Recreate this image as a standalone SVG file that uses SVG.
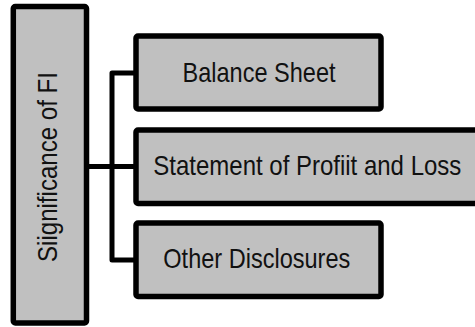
<svg xmlns="http://www.w3.org/2000/svg" width="475" height="327" viewBox="0 0 475 327">
<style>
.box{fill:#c0c0c0;stroke:#000;stroke-width:5.5;stroke-linejoin:round}
.lbl{font-family:"Liberation Sans",Arial,sans-serif;font-size:28.5px;fill:#111}
.conn{fill:none;stroke:#000;stroke-width:5;stroke-linejoin:round}
</style>
<rect x="0" y="0" width="475" height="327" fill="#fff"/>
<g id="connectors">
<path class="conn" d="M136 73 H112 V260 H136"/>
<path class="conn" d="M86 166.5 H136"/>
</g>
<g id="root">
<rect class="box" x="13.3" y="6.5" width="73.2" height="316.5" rx="2"/>
<text class="lbl" transform="translate(57,167) rotate(-90)" x="0" y="0" text-anchor="middle" textLength="190" lengthAdjust="spacingAndGlyphs">Siignificance of FI</text>
</g>
<g id="balance">
<rect class="box" x="136" y="36" width="245" height="73" rx="2"/>
<text class="lbl" x="259" y="81.5" text-anchor="middle" textLength="153" lengthAdjust="spacingAndGlyphs">Balance Sheet</text>
</g>
<g id="statement">
<rect class="box" x="136" y="130" width="343" height="73.5" rx="2"/>
<text class="lbl" x="153.3" y="175" textLength="308" lengthAdjust="spacingAndGlyphs">Statement of Profiit and Loss</text>
</g>
<g id="other">
<rect class="box" x="136" y="223" width="245" height="73.5" rx="2"/>
<text class="lbl" x="163.3" y="268.3" textLength="187" lengthAdjust="spacingAndGlyphs">Other Disclosures</text>
</g>
</svg>
